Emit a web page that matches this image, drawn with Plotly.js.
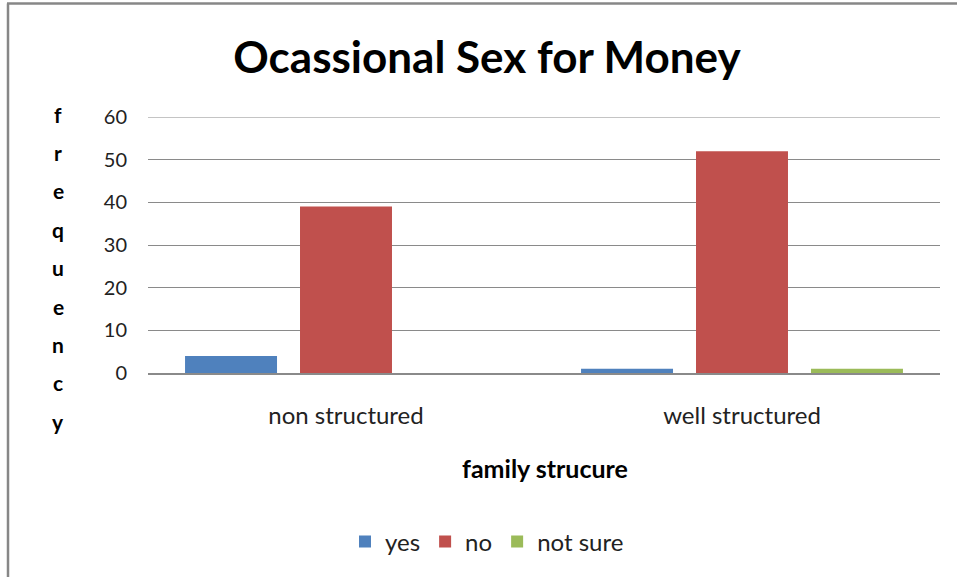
<!DOCTYPE html>
<html><head><meta charset="utf-8">
<script src="https://cdn.plot.ly/plotly-3.0.1.min.js"></script>
<style>html,body{margin:0;padding:0;background:#fff;}#chart{width:957px;height:577px;}</style>
</head><body><div id="chart"></div>
<script>
const categories = ['non structured', 'well structured'];
const seriesNames = ['yes', 'no', 'not sure'];
const yesValues = [4, 1];
const noValues = [39, 52];
const notSureValues = [0, 1];
const seriesColors = ['#4F81BD', '#C0504D', '#9BBB59'];
const yTickValues = [0, 10, 20, 30, 40, 50, 60];
const yTitleText = 'frequency';
const xTitleText = 'family strucure';
const chartTitle = 'Ocassional Sex for Money';

const W = 957, H = 577;
const L = 148, R = 17, T = 117, B = 204;
const plotW = W - L - R, plotH = H - T - B;
const px = x => (x - L) / plotW;
const py = y => (H - B - y) / plotH;

const FONT = 'Lato, "Open Sans", sans-serif';
const allValues = [yesValues, noValues, notSureValues];
const traces = seriesNames.map((n, i) => ({
  type: 'bar', name: n, x: categories, y: allValues[i],
  marker: {color: seriesColors[i], line: {width: 0}},
  hoverinfo: 'x+y+name'
}));

const annotations = yTitleText.split('').map((ch, i) => ({
  text: '<b>' + ch + '</b>', xref: 'paper', yref: 'paper',
  x: px(58), y: py(114 + i * 38.4), xanchor: 'center', yanchor: 'middle',
  showarrow: false, font: {family: FONT, size: 21, color: '#000'}
}));
annotations.push({
  text: '<b>' + xTitleText + '</b>', xref: 'paper', yref: 'paper',
  x: px(545), y: py(468), xanchor: 'center', yanchor: 'middle',
  showarrow: false, font: {family: FONT, size: 25, color: '#000'}
});

const topTick = yTickValues[yTickValues.length - 1];
const shapes = [
  {type: 'line', xref: 'paper', yref: 'y', x0: 0, x1: 1, y0: topTick, y1: topTick, line: {color: '#8a8a8a', width: 1}},
  {type: 'line', xref: 'paper', yref: 'paper', x0: px(8), x1: px(8), y0: py(3.5), y1: py(700), line: {color: '#878787', width: 2.5}},
  {type: 'line', xref: 'paper', yref: 'paper', x0: px(7), x1: px(1100), y0: py(3.5), y1: py(3.5), line: {color: '#878787', width: 2.5}}
];

const layout = {
  width: W, height: H,
  margin: {l: L, r: R, t: T, b: B, pad: 0},
  paper_bgcolor: '#fff', plot_bgcolor: '#fff',
  font: {family: FONT, size: 20, color: '#222'},
  title: {text: '<b>' + chartTitle + '</b>', xref: 'container', yref: 'container',
    x: 487 / W, y: 1 - 58 / H, xanchor: 'center', yanchor: 'middle',
    font: {family: FONT, size: 44, color: '#000'}},
  barmode: 'group', bargap: 0.129, bargroupgap: 0.2,
  xaxis: {type: 'category', showgrid: false, showline: true, linecolor: '#8a8a8a', linewidth: 1.5,
    ticks: '', ticklabelstandoff: 21, tickfont: {family: FONT, size: 24, color: '#222'}, zeroline: false, fixedrange: true},
  yaxis: {range: [0, 60], tickvals: yTickValues, showgrid: true, gridcolor: '#8a8a8a', gridwidth: 1,
    showline: false, zeroline: false, ticks: '', ticklabelstandoff: 20,
    tickfont: {family: FONT, size: 20, color: '#222'}, fixedrange: true},
  showlegend: true,
  legend: {orientation: 'h', x: px(487), y: py(542), xanchor: 'center', yanchor: 'middle',
    font: {family: FONT, size: 24, color: '#222'}, itemwidth: 30, traceorder: 'normal', bgcolor: 'rgba(0,0,0,0)'},
  annotations: annotations, shapes: shapes
};
Plotly.newPlot('chart', traces, layout, {displayModeBar: false, staticPlot: true});
</script></body></html>
